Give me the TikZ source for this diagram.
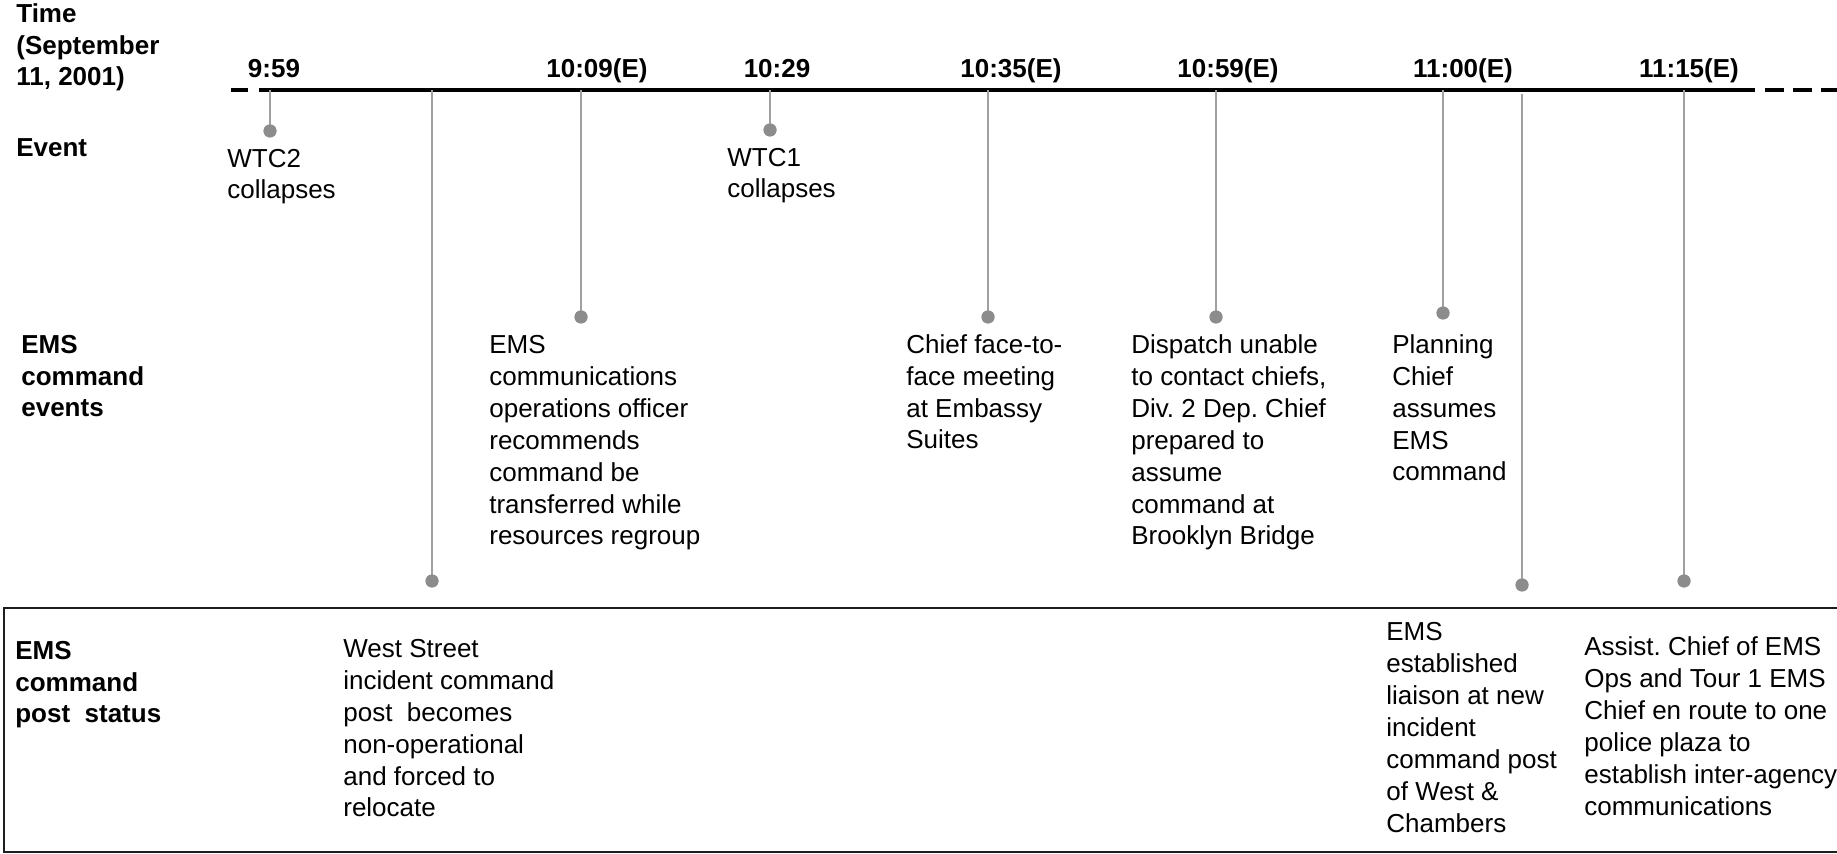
\documentclass[tikz,border=0pt]{standalone}
\usepackage{fontspec}
\setmainfont{Liberation Sans}
\frenchspacing
\usepackage{xcolor}
\definecolor{stemgray}{RGB}{160,160,160}
\definecolor{dotgray}{RGB}{140,140,140}
\definecolor{boxline}{RGB}{30,30,30}
\usepackage{tikz}
\usetikzlibrary{positioning}

\tikzset{
  rowlabel/.style={anchor=base west,align=left,inner sep=0pt,
    font=\fontsize{14.8}{18.2}\selectfont\bfseries},
  timelabel/.style={anchor=base,inner sep=0pt,
    font=\fontsize{14.8}{18.2}\selectfont\bfseries},
  evtext/.style={anchor=base west,align=left,inner sep=0pt,
    font=\fontsize{14.8}{18.2}\selectfont},
  evdot/.style={circle,fill=dotgray,inner sep=0pt,minimum size=0.26cm},
  stem/.style={draw=stemgray,line width=0.04cm}
}

\begin{document}
\begin{tikzpicture}[x=0.02cm,y=-0.02cm]
\useasboundingbox (0,0) rectangle (1837,854);

% status box, open on the right
\draw[boxline,line width=0.04cm] (1850,608) -- (4,608) -- (4,852) -- (1850,852);

% time axis
\draw[line width=0.08cm] (231,90) -- (248,90);
\draw[line width=0.08cm] (259,90) -- (1755,90);
\draw[line width=0.08cm,dash pattern=on 0.38cm off 0.18cm] (1765,90) -- (1850,90);

% row headers (positions are the baseline of the last line)
\node[rowlabel] (timehd) at (16,86) {Time\\(September\\11, 2001)};
\node[rowlabel] (eventhd) at (16,157) {Event};
\node[rowlabel] (cmdhd) at (21,417) {EMS\\command\\events};
\node[rowlabel] (posthd) at (15,723) {EMS\\command\\post\ \ status};

% times
\node[timelabel] (t959) at (274,78) {9:59};
\node[timelabel] (t1009) at (597,78) {10:09(E)};
\node[timelabel] (t1029) at (777,78) {10:29};
\node[timelabel] (t1035) at (1011,78) {10:35(E)};
\node[timelabel] (t1059) at (1228,78) {10:59(E)};
\node[timelabel] (t1100) at (1463,78) {11:00(E)};
\node[timelabel] (t1115) at (1689,78) {11:15(E)};

% stems from the axis to the dots
\foreach \nm/\x/\y/\top in {wtctwo/270/131/90, west/432/581/90, comms/581/317/90,
    wtcone/770/130/90, face/988/317/90, disp/1216/317/90, plan/1443/313/90,
    liais/1522/585/94, assist/1684/581/90} {
  \coordinate (s-\nm) at (\x,\top);
  \node[evdot] (d-\nm) at (\x,\y) {};
  \draw[stem] (s-\nm) -- (d-\nm.center);
  \node[evdot] at (d-\nm) {};
}

% events
\node[evtext] (wtc2) at (227,199) {WTC2\\collapses};
\node[evtext] (wtc1) at (727,198) {WTC1\\collapses};

% EMS command events
\node[evtext] (commsrec) at (489,545) {EMS\\communications\\operations officer\\recommends\\command be\\transferred while\\resources regroup};
\node[evtext] (facemeet) at (906,449) {Chief face-to-\\face meeting\\at Embassy\\Suites};
\node[evtext] (dispatch) at (1131,545) {Dispatch unable\\to contact chiefs,\\Div. 2 Dep. Chief\\prepared to\\assume\\command at\\Brooklyn Bridge};
\node[evtext] (planning) at (1392,481) {Planning\\Chief\\assumes\\EMS\\command};

% EMS command post status
\node[evtext] (weststreet) at (343,817) {West Street\\incident command\\post\ \ becomes\\non-operational\\and forced to\\relocate};
\node[evtext] (liaison) at (1386,832) {EMS\\established\\liaison at new\\incident\\command post\\of West \&\\Chambers};
\node[evtext] (assistchief) at (1584,815) {Assist. Chief of EMS\\Ops and Tour 1 EMS\\Chief en route to one\\police plaza to\\establish inter-agency\\communications};
\end{tikzpicture}
\end{document}
